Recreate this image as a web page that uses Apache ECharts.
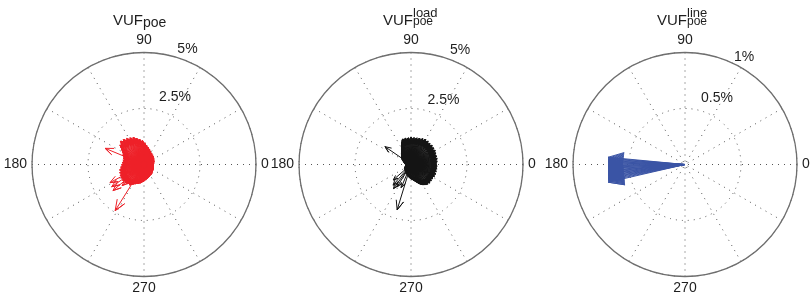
<!DOCTYPE html>
<html><head><meta charset="utf-8">
<script src="https://cdn.jsdelivr.net/npm/echarts/dist/echarts.min.js"></script>
<style>html,body{margin:0;padding:0;background:#fff}#c{width:810px;height:298px}</style>
</head><body><div id="c"></div>
<script>
// ---------- DATA ----------
const angleTickLabels = [0, 90, 180, 270];
const ringTicksPct5 = [2.5, 5];
const ringLabelsPct5 = ['2.5%', '5%'];
const ringTicksPct1 = [0.5, 1];
const ringLabelsPct1 = ['0.5%', '1%'];

// VUF_poe (red) : angle in degrees, magnitude in %
const poeAngle = [2,6,10,14,18,22,26,30,34,38,42,46,50,54,58,62,65,68,71,74,77,80,83,86,89,92,95,98,101,104,107,110,113,116,119,122,125,128,131,134,137,140,143,146,149,152,155,157.4,158,161,164,167,170,173,176,179,182,185,188,191,194,197,200,203,206,208,209,212,214.5,215,218,220,221,224,224.5,227,230,233,236,238,239,242,245,248,251,254,257,260,263,266,269,272,275,278,281,284,287,290,293,296,299,302,305,308,311,314,317,320,323,326,329,332,335,338,341,344,347,350,353,356,359,
  4,8,12,16,20,24,28,32,36,40,44,48,52,56,60,63.5,66.5,69.5,72.5,75.5,78.5,81.5,84.5,87.5,90.5,93.5,96.5,99.5,102.5,105.5,108.5,111.5,114.5,117.5,120.5,123.5,126.5,129.5,132.5,135.5,138.5,141.5,144.5,147.5,150.5,153.5,156.5,159.5,162.5,165.5,168.5,171.5,174.5,177.5,180.5,183.5,186.5,189.5,192.5,195.5,198.5,201.5,204.5,207,210.5,213.5,216.5,219,222.5,225.5,228.5,231.5,234.5,237,240.5,243.5,246.5,249.5,252.5,255.5,258.5,261.5,264.5,267.5,270.5,273.5,276.5,279.5,282.5,285.5,288.5,291.5,294.5,297.5,300.5,303.5,306.5,309.5,312.5,315.5,318.5,321.5,324.5,327.5,330.5,333.5,336.5,339.5,342.5,345.5,348.5,351.5,354.5,357.5];
const poeMag = [0.42,0.45,0.43,0.47,0.45,0.49,0.47,0.51,0.49,0.54,0.52,0.57,0.55,0.60,0.58,0.63,0.61,0.67,0.70,0.74,0.76,0.80,0.86,0.91,0.96,1.02,1.05,1.10,1.13,1.18,1.22,1.28,1.25,1.32,1.29,1.36,1.33,1.42,1.38,1.46,1.40,1.36,1.30,1.20,1.12,1.06,1.02,1.88,0.98,0.94,0.96,0.91,0.94,0.92,0.96,0.94,0.99,0.97,1.03,1.06,1.10,1.07,1.12,1.09,1.14,1.72,1.11,1.16,1.75,1.13,1.16,1.81,1.12,1.36,1.15,1.10,1.13,1.09,1.11,2.43,1.04,1.00,0.96,0.93,0.91,0.88,0.86,0.83,0.80,0.78,0.75,0.72,0.70,0.67,0.65,0.63,0.61,0.59,0.58,0.56,0.55,0.53,0.54,0.51,0.52,0.49,0.50,0.47,0.48,0.46,0.47,0.45,0.46,0.44,0.45,0.43,0.44,0.42,0.43,0.41,0.42,
  0.40,0.46,0.44,0.48,0.43,0.50,0.46,0.53,0.48,0.55,0.50,0.58,0.54,0.62,0.57,0.66,0.64,0.72,0.69,0.79,0.74,0.85,0.82,0.97,0.94,1.08,1.01,1.15,1.08,1.22,1.16,1.31,1.22,1.35,1.26,1.40,1.30,1.45,1.36,1.48,1.34,1.38,1.24,1.17,1.10,1.00,1.05,0.93,0.98,0.90,0.96,0.90,0.97,0.92,1.00,0.95,1.05,1.01,1.12,1.05,1.15,1.08,1.17,1.10,1.18,1.12,1.19,1.14,1.17,1.12,1.15,1.07,1.12,1.02,1.01,0.97,0.95,0.90,0.90,0.85,0.86,0.80,0.79,0.74,0.74,0.69,0.70,0.64,0.66,0.60,0.62,0.57,0.59,0.54,0.56,0.51,0.55,0.50,0.53,0.48,0.51,0.46,0.49,0.45,0.48,0.44,0.47,0.43,0.46,0.42,0.45,0.41,0.44,0.40];

// VUF_poe^load (black)
const loadAngle = [1,4,7,10,13,16,19,22,25,28,31,34,37,40,43,46,49,52,55,58,61,64,67,70,73,76,79,82,85,88,91,94,97,100,103,106,109,112,115,118,121,124,127,130,133,136,139,142,145.6,146,150,155,160,166,172,178,184,190,196,202,208,214,220,221,226,229,232,234,238,238.5,244,247,250,253,256,262,267,272,277,281,285,289,292,295,298,301,304,307,310,313,316,319,322,325,328,331,334,337,340,343,346,349,352,355,358,
  2.5,5.5,8.5,11.5,14.5,17.5,20.5,23.5,26.5,29.5,32.5,35.5,38.5,41.5,44.5,47.5,50.5,53.5,56.5,59.5,62.5,65.5,68.5,71.5,74.5,77.5,80.5,83.5,86.5,89.5,92.5,95.5,98.5,101.5,104.5,107.5,110.5,113.5,116.5,119.5,122.5,125.5,128.5,131.5,134.5,137.5,140.5,143.5,148,152.5,157.5,163,169,175,181,187,193,199,205,211,217,223,235,241,259,264.5,269.5,274.5,279,283,287,290.5,293.5,296.5,299.5,302.5,305.5,308.5,311.5,314.5,317.5,320.5,323.5,326.5,329.5,332.5,335.5,338.5,341.5,344.5,347.5,350.5,353.5,356.5,359.5];
const loadMag = [1.15,1.10,1.18,1.14,1.20,1.12,1.19,1.15,1.22,1.17,1.23,1.18,1.24,1.20,1.25,1.19,1.24,1.21,1.27,1.22,1.28,1.20,1.25,1.18,1.22,1.16,1.20,1.15,1.19,1.16,1.20,1.14,1.18,1.13,1.19,1.15,1.18,1.08,0.98,0.90,0.82,0.76,0.70,0.66,0.62,0.58,0.55,0.52,1.41,0.50,0.47,0.42,0.36,0.32,0.28,0.26,0.25,0.27,0.28,0.30,0.32,0.34,0.36,1.05,0.38,1.22,0.40,1.33,1.18,0.43,0.46,1.12,0.50,2.12,0.53,0.58,0.62,0.66,0.70,0.74,0.80,0.86,0.92,0.97,1.02,1.06,1.09,1.12,1.15,1.13,1.16,1.12,1.15,1.11,1.14,1.12,1.16,1.13,1.17,1.12,1.16,1.13,1.17,1.12,1.16,
  1.12,1.17,1.09,1.19,1.13,1.21,1.12,1.20,1.14,1.25,1.16,1.26,1.17,1.27,1.18,1.26,1.19,1.29,1.20,1.30,1.22,1.27,1.17,1.24,1.14,1.22,1.13,1.21,1.14,1.22,1.12,1.20,1.12,1.21,1.13,1.20,1.14,1.03,0.94,0.86,0.79,0.73,0.68,0.64,0.60,0.56,0.54,0.51,0.48,0.44,0.39,0.34,0.30,0.27,0.25,0.26,0.27,0.29,0.31,0.33,0.35,0.37,0.41,0.44,0.55,0.60,0.64,0.68,0.72,0.77,0.83,0.89,0.95,1.00,1.04,1.08,1.10,1.14,1.11,1.17,1.10,1.16,1.09,1.15,1.10,1.17,1.11,1.18,1.10,1.17,1.11,1.18,1.10,1.17,1.11];

// VUF_poe^line (blue)
const lineAngle = [174.6,175.2,175.9,176.5,177.1,177.8,178.3,178.9,179.6,180.2,180.9,181.5,182.0,182.8,183.3,184.1,184.7,185.2,185.9,186.6,187.1,187.9,188.4,189.2,189.8,190.5,191.3,192.1,193.0];
const lineMag = [0.688,0.686,0.687,0.685,0.686,0.684,0.686,0.685,0.684,0.686,0.685,0.687,0.686,0.688,0.687,0.689,0.688,0.690,0.689,0.691,0.692,0.693,0.694,0.695,0.697,0.698,0.699,0.701,0.703];

// ---------- LAYOUT / STYLE ----------
const FONT = "'Liberation Sans', Arial, sans-serif";
const TXT = '#1e1e1e';
const R = 112;
const CY = 164.5;
const panels = [
  {cx:144, max:5, ticks:ringTicksPct5, labels:ringLabelsPct5, labelAt:[[3.32,65.3],[5.49,69.3]],
   angle:poeAngle, mag:poeMag, color:'#ee2028', sup:null},
  {cx:411, max:5, ticks:ringTicksPct5, labels:ringLabelsPct5, labelAt:[[3.22,63.3],[5.56,66.8]],
   angle:loadAngle, mag:loadMag, color:'#141414', sup:'load'},
  {cx:685, max:1, ticks:ringTicksPct1, labels:ringLabelsPct1, labelAt:[[0.659,64.3],[1.095,61.2]],
   angle:lineAngle, mag:lineMag, color:'#3a54a5', sup:'line'}
];
const HEAD_R = Math.hypot(0.8, 0.08);
const HEAD_A = Math.atan(0.1) * 180 / Math.PI;

function arrowRenderer(color){
  return function(params, api){
    const r = api.value(0), a = api.value(1);
    const o = api.coord([0, a]);
    const t = api.coord([r, a]);
    const b1 = api.coord([r*HEAD_R, a+HEAD_A]);
    const b2 = api.coord([r*HEAD_R, a-HEAD_A]);
    return {type:'polyline', silent:true,
      shape:{points:[o,t,b1,t,b2]},
      style:{stroke:color, fill:null, lineWidth:1}};
  };
}
function ringLabelRenderer(labels){
  return function(params, api){
    const pt = api.coord([api.value(0), api.value(1)]);
    return {type:'text', silent:true, x:pt[0], y:pt[1],
      style:{text:labels[params.dataIndex], fill:TXT, fontSize:14, fontFamily:FONT,
        align:'center', verticalAlign:'middle', textAlign:'center', textVerticalAlign:'middle'}};
  };
}

const polar=[], angleAxis=[], radiusAxis=[], series=[], graphic=[];
const dotted = {type:[1,5], color:'#555', width:1};
panels.forEach((p,i)=>{
  polar.push({center:[p.cx, CY], radius:R});
  angleAxis.push({polarIndex:i, type:'value', min:0, max:360, interval:30, startAngle:0, clockwise:false,
    axisLine:{lineStyle:{color:'#6e6e6e', width:1.3}}, axisTick:{show:false},
    axisLabel:{margin:5, color:TXT, fontSize:14, fontFamily:FONT,
      formatter:v=> (angleTickLabels.indexOf(v)>=0 ? String(v) : '')},
    splitLine:{show:true, lineStyle:dotted}, z:1});
  radiusAxis.push({polarIndex:i, type:'value', min:0, max:p.max, interval:p.ticks[0],
    axisLine:{show:false}, axisTick:{show:false}, axisLabel:{show:false},
    splitLine:{show:true, lineStyle:dotted}});
  series.push({type:'custom', coordinateSystem:'polar', polarIndex:i, silent:true, z:5,
    renderItem:arrowRenderer(p.color),
    data:p.angle.map((a,k)=>[p.mag[k], a])});
  series.push({type:'custom', coordinateSystem:'polar', polarIndex:i, silent:true, z:6,
    renderItem:ringLabelRenderer(p.labels),
    data:p.labelAt.map(q=>[q[0], q[1]])});
  // titles
  const base = p.sup ? -28 : -31;
  graphic.push({type:'text', x:p.cx+base, y:20.5, silent:true,
    style:{text:'VUF', fontSize:15, fontFamily:FONT, fill:TXT, textAlign:'left', textVerticalAlign:'middle'}});
  if(p.sup){
    graphic.push({type:'text', x:p.cx+base+30, y:13.5, silent:true,
      style:{text:p.sup, fontSize:13, fontFamily:FONT, fill:TXT, textAlign:'left', textVerticalAlign:'middle'}});
    graphic.push({type:'text', x:p.cx+base+30, y:22, silent:true,
      style:{text:'poe', fontSize:12, fontFamily:FONT, fill:TXT, textAlign:'left', textVerticalAlign:'middle'}});
  } else {
    graphic.push({type:'text', x:p.cx+base+30, y:23.5, silent:true,
      style:{text:'poe', fontSize:14, fontFamily:FONT, fill:TXT, textAlign:'left', textVerticalAlign:'middle'}});
  }
});

const chart = echarts.init(document.getElementById('c'), null, {renderer:'canvas'});
chart.setOption({animation:false, backgroundColor:'#fff', polar, angleAxis, radiusAxis, series, graphic});
</script></body></html>
